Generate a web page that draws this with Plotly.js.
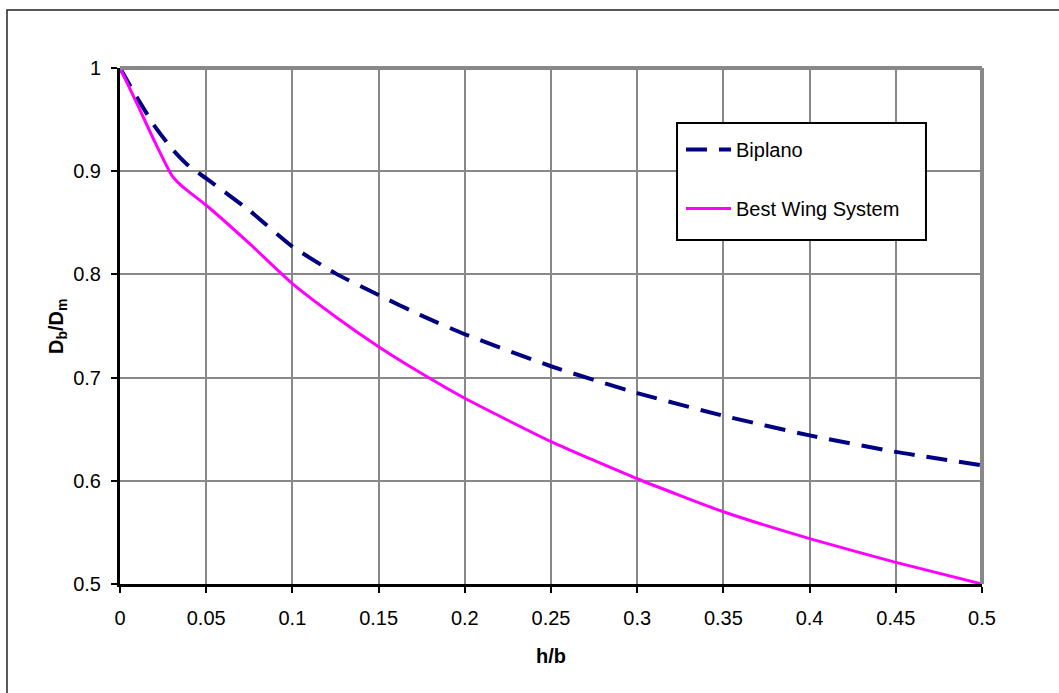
<!DOCTYPE html>
<html>
<head>
<meta charset="utf-8">
<script src="https://cdn.plot.ly/plotly-3.0.1.min.js"></script>
<style>html,body{margin:0;padding:0;background:#fff;}#chart{width:1059px;height:693px;}</style>
</head>
<body>
<div id="chart"></div>
<script>
const hb = [0, 0.01, 0.02, 0.03, 0.035, 0.04, 0.05, 0.075, 0.1, 0.125, 0.15, 0.175, 0.2, 0.25, 0.3, 0.35, 0.4, 0.45, 0.5];
const biplano = [1, 0.971, 0.944, 0.922, 0.913, 0.905, 0.893, 0.862, 0.827, 0.801, 0.780, 0.760, 0.742, 0.711, 0.685, 0.663, 0.644, 0.628, 0.615];
const bestWing = [1, 0.965, 0.929, 0.896, 0.887, 0.880, 0.867, 0.830, 0.791, 0.759, 0.730, 0.704, 0.680, 0.638, 0.602, 0.570, 0.544, 0.521, 0.500];
const xTicks = [0, 0.05, 0.1, 0.15, 0.2, 0.25, 0.3, 0.35, 0.4, 0.45, 0.5];
const xTickText = ['0', '0.05', '0.1', '0.15', '0.2', '0.25', '0.3', '0.35', '0.4', '0.45', '0.5'];
const yTicks = [0.5, 0.6, 0.7, 0.8, 0.9, 1];
const yTickText = ['0.5', '0.6', '0.7', '0.8', '0.9', '1'];
const seriesNames = ['Biplano', 'Best Wing System'];
const xTitle = '<b>h/b</b>';
const yTitle = '<b>D<sub>b</sub>/D<sub>m</sub></b>';

const FONT = 'Liberation Sans, Arial, sans-serif';

const traces = [
  {
    x: hb, y: biplano, name: seriesNames[0], type: 'scatter', mode: 'lines',
    line: {color: '#000080', width: 4, dash: '21px,12px', shape: 'spline', smoothing: 0.5},
    legendgroup: 'a'
  },
  {
    x: hb, y: bestWing, name: seriesNames[1], type: 'scatter', mode: 'lines',
    line: {color: '#FF00FF', width: 3, shape: 'spline', smoothing: 0.5},
    legendgroup: 'b'
  }
];

const layout = {
  width: 1059, height: 693,
  margin: {l: 120, r: 77, t: 68, b: 109, pad: 0},
  paper_bgcolor: '#ffffff',
  plot_bgcolor: '#ffffff',
  font: {family: FONT, size: 20, color: '#000'},
  showlegend: true,
  legend: {
    x: 0.6508, y: 0.8798, xanchor: 'left', yanchor: 'top',
    borderwidth: 0, bgcolor: 'rgba(0,0,0,0)',
    font: {family: FONT, size: 20, color: '#000'},
    traceorder: 'grouped', tracegroupgap: 30, itemwidth: 45
  },
  xaxis: {
    range: [0, 0.5], tickvals: xTicks, ticktext: xTickText,
    showgrid: true, gridcolor: '#888888', gridwidth: 2,
    showline: true, linecolor: '#000', linewidth: 3,
    ticks: 'outside', ticklen: 6, tickwidth: 2, tickcolor: '#000',
    ticklabelstandoff: 8,
    zeroline: false,
    tickfont: {family: FONT, size: 20, color: '#000'}
  },
  yaxis: {
    range: [0.5, 1], tickvals: yTicks, ticktext: yTickText,
    showgrid: true, gridcolor: '#888888', gridwidth: 2,
    showline: true, linecolor: '#000', linewidth: 3,
    ticks: 'outside', ticklen: 6, tickwidth: 2, tickcolor: '#000',
    ticklabelstandoff: 6,
    zeroline: false,
    tickfont: {family: FONT, size: 20, color: '#000'}
  },
  annotations: [
    {text: xTitle, xref: 'paper', yref: 'paper', x: 0.5, y: -0.1395, xanchor: 'center', yanchor: 'middle',
     showarrow: false, font: {family: FONT, size: 20, color: '#000'}},
    {text: yTitle, xref: 'paper', yref: 'paper', x: -0.0731, y: 0.5, xanchor: 'center', yanchor: 'middle',
     textangle: -90, showarrow: false, font: {family: FONT, size: 20, color: '#000'}}
  ],
  shapes: [
    {type: 'line', xref: 'paper', yref: 'paper', x0: 0, x1: 1, y0: 1, y1: 1, line: {color: '#888888', width: 4}},
    {type: 'line', xref: 'paper', yref: 'paper', x0: 1, x1: 1, y0: 0, y1: 1, line: {color: '#888888', width: 4}},
    {type: 'rect', xref: 'paper', yref: 'paper', x0: 0.6462, x1: 0.935, y0: 0.6667, y1: 0.8934,
     fillcolor: '#ffffff', line: {color: '#000', width: 2}, layer: 'above'},
    {type: 'rect', xref: 'paper', yref: 'paper', x0: -0.1311, x1: 1.15, y0: -0.2248, y1: 1.1124, line: {color: '#222', width: 1.5}, layer: 'below'}
  ]
};

Plotly.newPlot('chart', traces, layout, {staticPlot: true, displayModeBar: false});
</script>
</body>
</html>
